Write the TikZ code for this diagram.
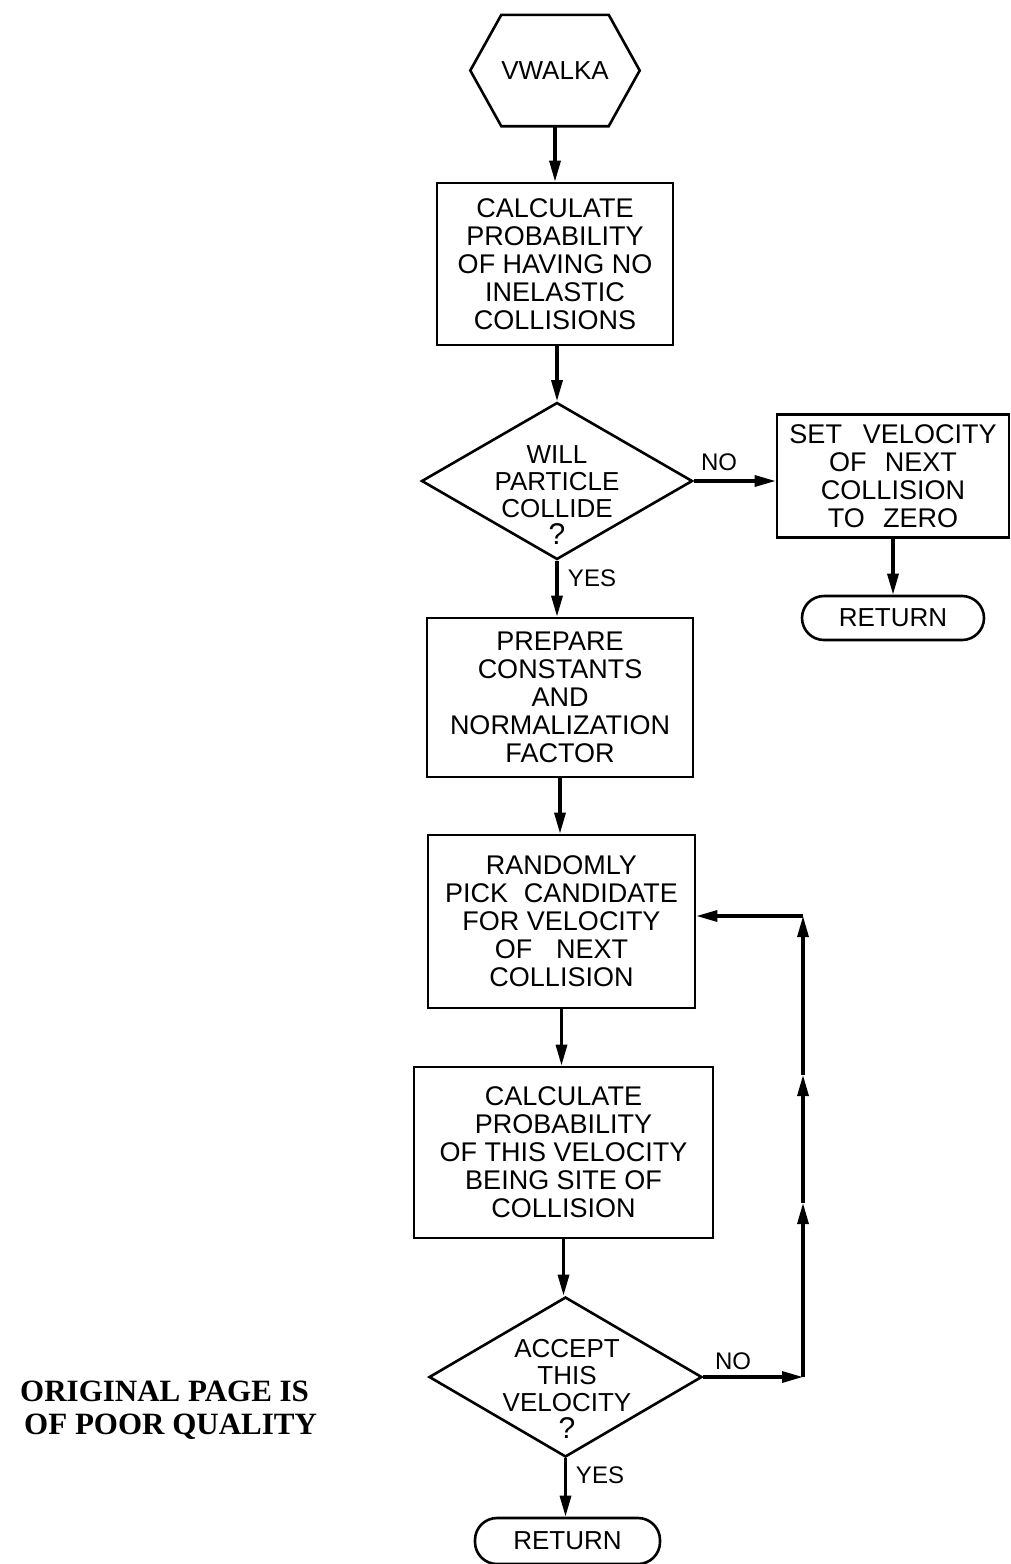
\documentclass[tikz,border=0pt]{standalone}
\usepackage{fontspec}
\setmainfont{Liberation Sans}
\newfontfamily\stampfont{Liberation Serif}
\usetikzlibrary{arrows.meta,shapes.geometric,shapes.misc}
\begin{document}
\begin{tikzpicture}[x=1pt,y=-1pt,
  boxnode/.style={draw, line width=2.6pt, inner sep=0pt, align=center,
    font=\fontsize{27}{28}\selectfont},
  dianode/.style={draw, diamond, line width=2.6pt, inner sep=0pt},
  dtext/.style={inner sep=0pt, align=center, font=\fontsize{26}{27.2}\selectfont},
  retnode/.style={draw, line width=2.6pt, rounded corners=22pt, inner sep=0pt,
    minimum width=182pt, minimum height=44pt, font=\fontsize{26}{28}\selectfont},
  lbl/.style={inner sep=0pt, font=\fontsize{24}{26}\selectfont},
  conn/.style={line width=3.2pt, -{Triangle[length=21pt,width=11pt]}},
  stamp/.style={inner sep=0pt, anchor=west, font=\stampfont\bfseries\fontsize{31}{36}\selectfont}
]
\fill[white] (0,0) rectangle (1011,1564);
\useasboundingbox (0,0) rectangle (1011,1564);

% start hexagon
\node[inner sep=0pt, minimum width=169pt, minimum height=111pt,
      font=\fontsize{26}{28}\selectfont] (hex) at (555,70.5) {VWALKA};
\draw[line width=2.6pt, line join=miter]
  (hex.west) -- ([xshift=31pt]hex.north west) -- ([xshift=-31pt]hex.north east)
  -- (hex.east) -- ([xshift=-31pt]hex.south east) -- ([xshift=31pt]hex.south west) -- cycle;

% boxes
\node[boxnode, minimum width=236pt, minimum height=162pt] (box1) at (555,264)
  {CALCULATE\\PROBABILITY\\OF HAVING NO\\INELASTIC\\COLLISIONS};

\node[dianode, minimum width=271pt, minimum height=157pt] (d1) at (557,481) {};
\node[dtext] (d1t) at (557,495) {WILL\\PARTICLE\\COLLIDE\\{\fontsize{30}{27.2}\selectfont ?}};

\node[boxnode, minimum width=232pt, minimum height=123pt] (set) at (893,476)
  {SET\hspace{0.5em} VELOCITY\\OF\hspace{0.4em} NEXT\\COLLISION\\TO\hspace{0.4em} ZERO};
\node[retnode] (ret1) at (893,618) {RETURN};

\node[boxnode, minimum width=266pt, minimum height=159pt] (prep) at (560,697.5)
  {PREPARE\\CONSTANTS\\AND\\NORMALIZATION\\FACTOR};

\node[boxnode, minimum width=267pt, minimum height=173pt] (rand) at (561.5,921.5)
  {RANDOMLY\\PICK\hspace{0.3em} CANDIDATE\\FOR VELOCITY\\OF\hspace{0.6em} NEXT\\COLLISION};

\node[boxnode, minimum width=299pt, minimum height=171pt] (calc) at (563.5,1152.5)
  {CALCULATE\\PROBABILITY\\OF THIS VELOCITY\\BEING SITE OF\\COLLISION};

\node[dianode, minimum width=273pt, minimum height=160pt] (d2) at (565.5,1377) {};
\node[dtext] (d2t) at (567,1389) {ACCEPT\\THIS\\VELOCITY\\{\fontsize{30}{27.2}\selectfont ?}};

\node[retnode, minimum width=185pt, minimum height=46pt] (ret2) at (567.5,1541) {RETURN};

% labels
\node[lbl] (no1) at (719,462) {NO};
\node[lbl] (yes1) at (592,578) {YES};
\node[lbl] (no2) at (733,1361) {NO};
\node[lbl] (yes2) at (600,1475) {YES};

% stamp text
\node[stamp] (stamp1) at (20,1391) {ORIGINAL PAGE IS};
\node[stamp] (stamp2) at (24,1427) {OF POOR QUALITY};

% connectors
\draw[conn] (hex.south) -- (hex.south |- box1.north);
\draw[conn] (box1.south) -- (box1.south -| d1.north) -- (d1.north);
\draw[conn] (d1.east) -- (d1.east -| set.west);
\draw[conn] (set.south -| ret1.north) -- (ret1.north);
\draw[conn] (d1.south) -- (d1.south |- prep.north);
\draw[conn] (prep.south) -- (prep.south |- rand.north);
\draw[conn] (rand.south) -- (rand.south |- calc.north);
\draw[conn] (calc.south) -- (calc.south |- d2.north);
\draw[conn] (d2.south) -- (d2.south |- ret2.north);

% loop back
\coordinate (c1) at (803,1377);
\coordinate (m1) at (803,1203);
\coordinate (m2) at (803,1075);
\coordinate (c2) at (803,916);
\draw[conn] (d2.east) -- (c1);
\draw[conn] (c1) -- (m1);
\draw[conn] (m1) -- (m2);
\draw[conn] (m2) -- (c2);
\draw[conn] (c2) -- (c2 -| rand.east);
\end{tikzpicture}
\end{document}
